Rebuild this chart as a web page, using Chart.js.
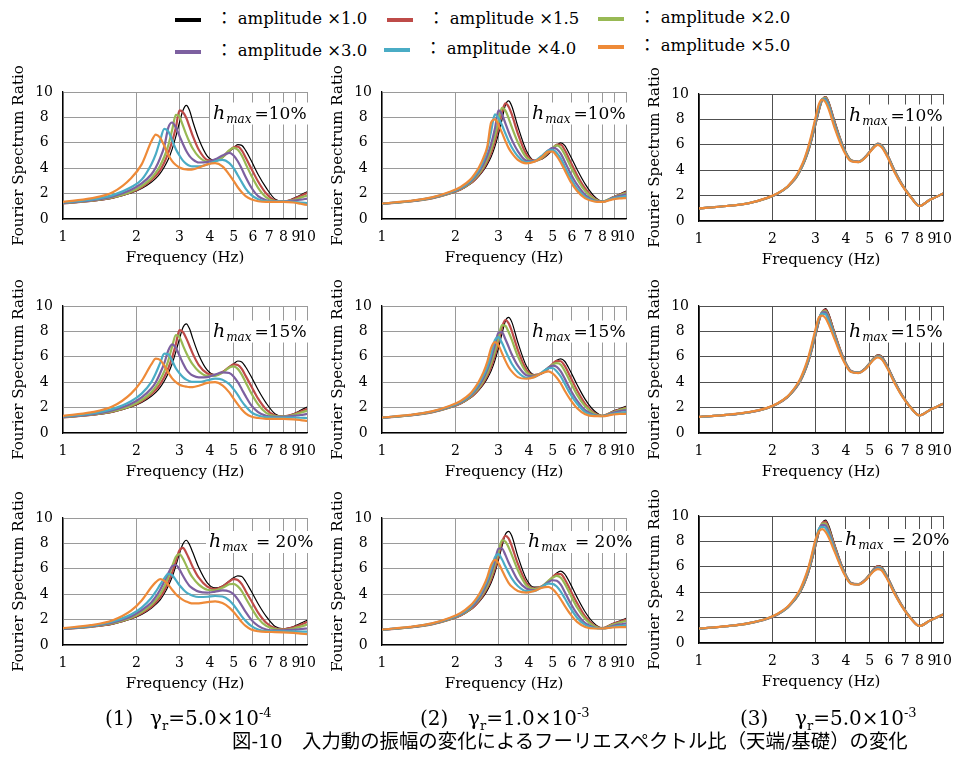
<!DOCTYPE html>
<html><head><meta charset="utf-8">
<script src="https://cdn.jsdelivr.net/npm/chart.js@4.4.1/dist/chart.umd.min.js"></script>
<style>
html,body{margin:0;padding:0;background:#fff;width:960px;height:758px;overflow:hidden;}
#root{position:relative;width:960px;height:758px;overflow:hidden;}
canvas{position:absolute;}
.sw{position:absolute;height:4px;width:26px;}
.leg{position:absolute;font-family:"DejaVu Serif","Noto Sans CJK JP",serif;font-size:16.5px;line-height:18px;color:#000;white-space:nowrap;}
.cap{position:absolute;font-family:"DejaVu Serif","Noto Sans CJK JP",serif;font-size:20px;line-height:24px;color:#000;white-space:nowrap;}
.cap sub,.cap sup{font-size:13px;line-height:0;}
.main{position:absolute;font-family:"DejaVu Serif","Noto Sans CJK JP",serif;font-size:19.4px;line-height:22px;color:#000;white-space:nowrap;}
</style></head>
<body><div id="root"></div>
<script>
// ---------------- DATA ----------------
const FREQ = [1, 1.3, 1.6, 1.9, 2.1, 2.3, 2.4, 2.5, 2.6, 2.7, 2.8, 2.9, 3.0, 3.1, 3.2, 3.3, 3.4, 3.6, 3.9, 4.2, 4.5, 4.8, 5.0, 5.2, 5.4, 5.6, 5.9, 6.3, 6.8, 7.4, 8.0, 8.8, 9.4, 10];
const X_TICKS = [1, 2, 3, 4, 5, 6, 7, 8, 9, 10];
const SERIES_NAMES = ['amplitude ×1.0', 'amplitude ×1.5', 'amplitude ×2.0', 'amplitude ×3.0', 'amplitude ×4.0', 'amplitude ×5.0'];
const HMAX_TEXT = ['=10%', '=15%', ' = 20%'];
const GAMMA_BASE = ['5.0', '1.0', '5.0'];
const GAMMA_EXP = ['-4', '-3', '-3'];

// gamma_r = 5.0e-4
const Y_G1_H10 = [
 [1.22,1.40,1.65,2.05,2.40,2.90,3.20,3.60,4.10,4.70,5.50,6.50,7.60,8.55,8.95,8.55,7.70,6.30,4.95,4.62,4.85,5.30,5.60,5.85,5.80,5.40,4.60,3.50,2.45,1.55,1.38,1.62,1.88,2.15],
 [1.23,1.42,1.68,2.10,2.50,3.05,3.40,3.85,4.45,5.20,6.10,7.20,8.55,8.40,7.95,7.25,6.55,5.45,4.65,4.58,4.88,5.38,5.65,5.70,5.40,4.85,4.00,2.95,2.00,1.45,1.38,1.58,1.82,2.05],
 [1.25,1.44,1.72,2.15,2.60,3.20,3.65,4.20,4.90,5.80,7.00,8.20,8.05,7.35,6.65,6.05,5.55,4.90,4.52,4.55,4.85,5.40,5.60,5.45,5.00,4.35,3.45,2.45,1.70,1.40,1.38,1.50,1.68,1.85],
 [1.27,1.47,1.78,2.30,2.80,3.50,4.05,4.80,5.70,7.20,7.60,7.20,6.55,5.90,5.35,4.95,4.70,4.45,4.48,4.70,5.00,5.20,5.00,4.55,3.95,3.30,2.50,1.80,1.48,1.40,1.40,1.45,1.52,1.60],
 [1.30,1.52,1.88,2.50,3.10,4.30,5.10,6.20,7.10,6.90,6.20,5.50,5.00,4.60,4.35,4.20,4.15,4.15,4.30,4.55,4.65,4.40,4.00,3.45,2.90,2.40,1.90,1.55,1.40,1.38,1.38,1.35,1.30,1.25],
 [1.35,1.62,2.10,3.20,4.30,6.10,6.65,6.40,5.75,5.05,4.55,4.25,4.05,3.95,3.90,3.88,3.90,4.05,4.30,4.40,4.15,3.50,3.00,2.50,2.10,1.80,1.55,1.40,1.35,1.35,1.35,1.30,1.20,1.10]
];
const Y_G1_H15 = [
 [1.22,1.40,1.65,2.05,2.40,2.90,3.20,3.60,4.10,4.70,5.45,6.40,7.40,8.30,8.60,8.20,7.45,6.15,4.95,4.60,4.80,5.20,5.45,5.67,5.60,5.20,4.45,3.40,2.35,1.50,1.32,1.52,1.78,2.05],
 [1.23,1.42,1.68,2.10,2.50,3.05,3.40,3.85,4.40,5.10,5.95,7.00,8.10,7.95,7.45,6.85,6.25,5.35,4.68,4.55,4.80,5.20,5.40,5.35,5.05,4.50,3.70,2.70,1.85,1.38,1.30,1.48,1.70,1.90],
 [1.25,1.44,1.72,2.15,2.60,3.20,3.65,4.20,4.85,5.70,6.80,7.70,7.55,6.90,6.30,5.80,5.40,4.85,4.50,4.50,4.75,5.15,5.25,5.05,4.60,4.00,3.15,2.25,1.58,1.33,1.30,1.43,1.60,1.75],
 [1.27,1.47,1.80,2.30,2.80,3.50,4.00,4.70,5.50,6.50,6.98,6.70,6.10,5.50,5.00,4.70,4.52,4.38,4.40,4.60,4.78,4.72,4.45,4.00,3.45,2.90,2.20,1.65,1.35,1.28,1.28,1.35,1.42,1.50],
 [1.30,1.52,1.90,2.50,3.10,4.00,4.70,5.50,6.25,6.20,5.70,5.10,4.70,4.40,4.20,4.08,4.02,4.02,4.15,4.28,4.20,3.85,3.45,3.00,2.50,2.10,1.65,1.38,1.25,1.22,1.22,1.22,1.20,1.18],
 [1.35,1.62,2.10,3.10,4.10,5.40,5.85,5.75,5.30,4.75,4.30,4.00,3.80,3.70,3.65,3.62,3.62,3.72,3.95,4.00,3.75,3.20,2.70,2.25,1.85,1.55,1.30,1.18,1.12,1.12,1.12,1.08,1.02,0.95]
];
const Y_G1_H20 = [
 [1.25,1.42,1.65,2.05,2.40,2.90,3.20,3.55,4.05,4.65,5.35,6.25,7.20,7.95,8.25,7.90,7.30,6.10,4.90,4.50,4.65,5.05,5.30,5.45,5.40,5.00,4.25,3.25,2.25,1.45,1.28,1.45,1.70,1.95],
 [1.26,1.43,1.68,2.10,2.50,3.00,3.35,3.75,4.30,4.95,5.70,6.60,7.45,7.65,7.25,6.70,6.15,5.30,4.60,4.40,4.60,5.00,5.18,5.12,4.80,4.25,3.50,2.55,1.75,1.32,1.25,1.40,1.60,1.80],
 [1.27,1.45,1.72,2.15,2.60,3.15,3.55,4.00,4.60,5.35,6.20,6.95,7.15,6.80,6.25,5.70,5.30,4.75,4.35,4.30,4.50,4.78,4.82,4.62,4.25,3.70,2.95,2.10,1.50,1.25,1.20,1.30,1.45,1.60],
 [1.28,1.47,1.78,2.25,2.75,3.35,3.80,4.35,5.00,5.65,6.20,6.30,5.95,5.45,5.00,4.65,4.45,4.20,4.12,4.20,4.30,4.22,4.00,3.60,3.10,2.60,2.00,1.50,1.22,1.15,1.15,1.20,1.25,1.30],
 [1.30,1.50,1.85,2.40,2.95,3.70,4.20,4.75,5.25,5.60,5.50,5.10,4.70,4.40,4.15,4.00,3.88,3.78,3.80,3.86,3.82,3.52,3.15,2.70,2.25,1.90,1.50,1.22,1.10,1.08,1.08,1.07,1.06,1.05],
 [1.33,1.56,1.95,2.70,3.50,4.55,4.95,5.18,5.05,4.75,4.35,4.00,3.75,3.55,3.42,3.32,3.27,3.28,3.38,3.44,3.30,2.95,2.60,2.20,1.80,1.50,1.22,1.08,1.03,1.02,1.00,0.95,0.90,0.85]
];
// gamma_r = 1.0e-3
const Y_G2_H10 = [
 [1.20,1.38,1.62,2.00,2.30,2.75,3.05,3.40,3.80,4.30,4.90,5.70,6.70,7.80,8.95,9.30,8.90,7.30,5.40,4.62,4.70,5.10,5.45,5.80,6.00,5.80,5.00,3.90,2.75,1.80,1.38,1.72,1.95,2.20],
 [1.20,1.38,1.63,2.02,2.33,2.80,3.10,3.50,3.95,4.50,5.20,6.10,7.20,8.40,9.10,8.85,8.25,6.75,5.10,4.60,4.75,5.20,5.55,5.85,5.85,5.45,4.55,3.45,2.40,1.62,1.38,1.70,1.90,2.12],
 [1.20,1.39,1.64,2.04,2.36,2.85,3.20,3.60,4.10,4.70,5.50,6.50,7.70,8.75,8.55,7.95,7.25,6.05,4.85,4.55,4.80,5.30,5.60,5.80,5.60,5.10,4.20,3.15,2.20,1.55,1.37,1.68,1.87,2.05],
 [1.21,1.40,1.66,2.07,2.40,2.92,3.30,3.75,4.30,5.00,5.90,7.10,8.55,8.25,7.55,6.85,6.25,5.35,4.60,4.55,4.90,5.40,5.60,5.50,5.15,4.55,3.65,2.70,1.90,1.45,1.36,1.65,1.82,1.95],
 [1.21,1.41,1.68,2.10,2.45,3.00,3.40,3.90,4.55,5.50,6.90,8.25,7.95,7.40,6.75,6.15,5.65,4.95,4.48,4.55,4.95,5.40,5.45,5.20,4.75,4.15,3.30,2.40,1.75,1.42,1.35,1.60,1.72,1.80],
 [1.22,1.42,1.70,2.15,2.52,3.10,3.55,4.10,4.80,5.70,7.60,7.85,7.40,6.80,6.15,5.60,5.20,4.65,4.38,4.50,4.85,5.30,5.30,4.95,4.45,3.85,3.00,2.20,1.62,1.38,1.34,1.55,1.62,1.65]
];
const Y_G2_H15 = [
 [1.20,1.38,1.62,2.00,2.30,2.75,3.05,3.40,3.80,4.30,4.90,5.70,6.70,7.80,8.80,9.10,8.75,7.15,5.30,4.60,4.65,5.05,5.40,5.72,5.84,5.65,4.90,3.80,2.65,1.75,1.36,1.70,1.90,2.10],
 [1.20,1.38,1.63,2.02,2.33,2.80,3.10,3.50,3.95,4.50,5.20,6.10,7.20,8.30,8.88,8.65,8.05,6.55,5.00,4.55,4.70,5.10,5.45,5.68,5.65,5.30,4.45,3.35,2.30,1.58,1.36,1.66,1.85,2.00],
 [1.20,1.39,1.64,2.04,2.36,2.85,3.20,3.60,4.10,4.70,5.50,6.40,7.50,8.50,8.45,7.95,7.35,6.05,4.80,4.50,4.70,5.15,5.40,5.50,5.38,4.90,4.05,3.00,2.10,1.50,1.35,1.63,1.80,1.95],
 [1.21,1.40,1.66,2.07,2.40,2.92,3.30,3.75,4.30,5.00,5.85,6.90,7.90,7.95,7.40,6.80,6.20,5.30,4.55,4.45,4.70,5.15,5.30,5.20,4.85,4.30,3.45,2.55,1.80,1.42,1.34,1.58,1.72,1.80],
 [1.21,1.41,1.68,2.10,2.45,3.00,3.40,3.90,4.50,5.20,6.20,7.30,7.55,7.10,6.50,5.95,5.45,4.80,4.35,4.40,4.75,5.10,5.12,4.85,4.45,3.90,3.10,2.30,1.65,1.38,1.33,1.50,1.60,1.65],
 [1.22,1.42,1.70,2.15,2.52,3.10,3.55,4.10,4.75,5.60,6.70,7.15,6.90,6.30,5.70,5.20,4.85,4.40,4.27,4.40,4.70,4.86,4.70,4.35,3.90,3.35,2.65,1.95,1.48,1.33,1.32,1.45,1.50,1.50]
];
const Y_G2_H20 = [
 [1.20,1.38,1.62,2.00,2.30,2.75,3.05,3.40,3.80,4.30,4.90,5.70,6.70,7.75,8.70,8.95,8.60,7.00,5.20,4.55,4.60,5.00,5.35,5.68,5.82,5.60,4.85,3.75,2.60,1.70,1.34,1.68,1.88,2.10],
 [1.20,1.38,1.63,2.02,2.33,2.80,3.10,3.50,3.95,4.50,5.15,6.00,7.05,8.10,8.60,8.40,7.80,6.40,4.90,4.45,4.60,5.00,5.35,5.58,5.58,5.20,4.35,3.30,2.25,1.55,1.33,1.65,1.83,2.00],
 [1.20,1.39,1.64,2.04,2.36,2.85,3.20,3.60,4.10,4.65,5.40,6.30,7.30,8.25,8.15,7.70,7.10,5.90,4.70,4.40,4.60,5.05,5.30,5.45,5.30,4.85,4.00,2.95,2.05,1.48,1.32,1.60,1.76,1.90],
 [1.21,1.40,1.66,2.07,2.40,2.92,3.25,3.70,4.25,4.90,5.70,6.60,7.60,7.60,7.10,6.50,6.00,5.10,4.45,4.30,4.55,4.95,5.10,5.05,4.75,4.20,3.35,2.45,1.72,1.38,1.30,1.50,1.62,1.70],
 [1.21,1.41,1.68,2.10,2.45,3.00,3.40,3.85,4.45,5.10,5.95,6.90,7.15,6.75,6.20,5.70,5.25,4.65,4.25,4.25,4.55,4.83,4.82,4.60,4.20,3.70,2.95,2.15,1.58,1.35,1.30,1.42,1.50,1.55],
 [1.22,1.42,1.70,2.15,2.52,3.10,3.50,4.00,4.60,5.35,6.30,6.70,6.45,5.90,5.35,4.90,4.60,4.25,4.13,4.25,4.50,4.58,4.40,4.05,3.60,3.10,2.45,1.82,1.42,1.30,1.30,1.38,1.40,1.40]
];
// gamma_r = 5.0e-3
const Y_G3_H10 = [
 [1.00,1.18,1.40,1.80,2.15,2.65,3.00,3.40,3.95,4.60,5.40,6.40,7.50,8.60,9.50,9.80,9.40,7.85,5.90,4.80,4.68,5.05,5.45,5.85,6.12,6.00,5.30,4.10,2.90,1.90,1.18,1.65,1.90,2.17],
 [1.00,1.18,1.40,1.80,2.15,2.66,3.02,3.42,3.98,4.65,5.48,6.50,7.62,8.72,9.55,9.75,9.30,7.75,5.85,4.78,4.67,5.05,5.45,5.85,6.10,5.97,5.25,4.05,2.87,1.88,1.18,1.65,1.90,2.17],
 [1.00,1.18,1.40,1.80,2.16,2.67,3.03,3.44,4.00,4.68,5.52,6.55,7.70,8.80,9.58,9.70,9.20,7.65,5.80,4.76,4.66,5.04,5.44,5.84,6.08,5.94,5.22,4.02,2.85,1.87,1.18,1.65,1.90,2.17],
 [1.00,1.18,1.40,1.81,2.16,2.68,3.05,3.47,4.04,4.73,5.60,6.65,7.82,8.92,9.60,9.62,9.10,7.55,5.75,4.74,4.65,5.03,5.43,5.82,6.06,5.90,5.18,3.98,2.82,1.85,1.18,1.65,1.90,2.17],
 [1.00,1.18,1.41,1.81,2.17,2.69,3.07,3.50,4.08,4.78,5.68,6.75,7.95,9.05,9.60,9.52,9.00,7.45,5.70,4.72,4.64,5.02,5.42,5.80,6.03,5.86,5.14,3.95,2.80,1.84,1.18,1.65,1.90,2.17],
 [1.00,1.18,1.41,1.82,2.18,2.70,3.10,3.55,4.15,4.88,5.80,6.90,8.10,9.20,9.55,9.35,8.80,7.30,5.60,4.70,4.63,5.00,5.40,5.78,6.00,5.80,5.08,3.90,2.78,1.83,1.18,1.65,1.90,2.17]
];
const Y_G3_H15 = [
 [1.26,1.42,1.62,1.95,2.30,2.80,3.15,3.55,4.05,4.70,5.50,6.50,7.60,8.70,9.55,9.80,9.40,7.90,6.00,4.90,4.77,5.10,5.50,5.90,6.15,6.05,5.35,4.20,3.00,2.00,1.39,1.80,2.05,2.30],
 [1.26,1.42,1.62,1.95,2.30,2.81,3.17,3.58,4.08,4.75,5.57,6.58,7.70,8.80,9.55,9.70,9.25,7.80,5.95,4.88,4.76,5.10,5.50,5.90,6.12,6.00,5.30,4.15,2.97,1.98,1.39,1.80,2.05,2.30],
 [1.26,1.42,1.62,1.96,2.31,2.82,3.19,3.61,4.12,4.80,5.63,6.66,7.80,8.90,9.55,9.60,9.10,7.70,5.90,4.86,4.75,5.08,5.48,5.88,6.08,5.96,5.26,4.12,2.95,1.97,1.39,1.80,2.05,2.30],
 [1.26,1.42,1.63,1.96,2.32,2.83,3.21,3.64,4.16,4.86,5.70,6.75,7.90,8.98,9.50,9.50,8.95,7.60,5.85,4.84,4.74,5.06,5.46,5.85,6.04,5.92,5.22,4.08,2.93,1.96,1.39,1.80,2.05,2.30],
 [1.26,1.42,1.63,1.97,2.33,2.84,3.23,3.67,4.20,4.92,5.78,6.85,8.00,9.05,9.40,9.35,8.80,7.50,5.80,4.82,4.73,5.04,5.44,5.82,6.00,5.87,5.18,4.05,2.90,1.95,1.39,1.80,2.05,2.30],
 [1.27,1.43,1.64,1.98,2.34,2.86,3.26,3.72,4.28,5.02,5.92,7.00,8.15,9.10,9.25,9.05,8.55,7.35,5.72,4.80,4.72,5.02,5.40,5.78,5.95,5.80,5.12,4.00,2.88,1.94,1.39,1.80,2.05,2.30]
];
const Y_G3_H20 = [
 [1.13,1.32,1.55,1.90,2.25,2.75,3.10,3.50,4.00,4.65,5.45,6.45,7.55,8.65,9.45,9.68,9.25,7.75,5.85,4.75,4.65,5.00,5.42,5.85,6.10,6.00,5.30,4.15,2.95,1.95,1.34,1.75,2.00,2.24],
 [1.13,1.32,1.55,1.90,2.25,2.76,3.12,3.53,4.04,4.70,5.52,6.55,7.68,8.78,9.45,9.55,9.05,7.62,5.80,4.73,4.64,5.00,5.40,5.82,6.05,5.95,5.24,4.10,2.92,1.93,1.34,1.75,2.00,2.24],
 [1.13,1.32,1.55,1.91,2.26,2.77,3.14,3.56,4.08,4.76,5.60,6.64,7.80,8.88,9.40,9.40,8.90,7.52,5.75,4.71,4.63,4.98,5.38,5.78,6.00,5.90,5.20,4.06,2.90,1.92,1.34,1.75,2.00,2.24],
 [1.13,1.32,1.56,1.91,2.27,2.78,3.16,3.60,4.13,4.83,5.68,6.75,7.92,8.95,9.30,9.25,8.75,7.42,5.70,4.69,4.62,4.96,5.35,5.74,5.95,5.85,5.15,4.02,2.88,1.91,1.34,1.75,2.00,2.24],
 [1.13,1.32,1.56,1.92,2.28,2.80,3.19,3.64,4.18,4.90,5.76,6.85,8.02,9.00,9.15,9.05,8.55,7.30,5.65,4.67,4.61,4.94,5.32,5.70,5.88,5.80,5.10,3.98,2.86,1.90,1.34,1.75,2.00,2.24],
 [1.14,1.33,1.57,1.93,2.30,2.83,3.23,3.70,4.26,5.00,5.88,6.98,8.12,8.80,8.97,8.75,8.30,7.15,5.58,4.65,4.60,4.92,5.30,5.66,5.82,5.72,5.04,3.94,2.84,1.89,1.34,1.75,2.00,2.24]
];

// ---------------- STYLE / LAYOUT ----------------
const COLORS = ['#000000', '#be4b48', '#98b954', '#7d60a0', '#4aacc5', '#ee8a38'];
const WIDTHS = [1.2, 2.2, 2.2, 2.2, 2.2, 2.2];
const PANELS = [
  [Y_G1_H10, Y_G2_H10, Y_G3_H10],
  [Y_G1_H15, Y_G2_H15, Y_G3_H15],
  [Y_G1_H20, Y_G2_H20, Y_G3_H20]
];
const COL_LEFT = [63, 382, 699];
const ROW_TOP = [[92, 92, 94], [306, 306, 306], [518, 518, 516]];
const HMAX_DX = [150, 150, 146];
const HMAX_DY = [26.5, 30.5, 29];
const PLOT_W = 253, PLOT_H = 127, Y_AXIS_W = 63, PAD_T = 32, PAD_R = 10, X_AXIS_H = 60;
const SERIF = '"DejaVu Serif", serif';

PANELS.forEach(r => r.forEach(p => p.forEach(a => { if (a.length !== FREQ.length) throw new Error('length mismatch ' + a.length); })));

const root = document.getElementById('root');

const hmaxPlugin = {
  id: 'hmax',
  beforeDatasetsDraw(chart, args, opts) {
    const ctx = chart.ctx, ca = chart.chartArea;
    const x0 = ca.left + opts.dx, y0 = ca.top + opts.dy;
    const fH = 'italic 19px "DejaVu Serif"', fS = 'italic 12px "DejaVu Serif"', fT = '17px "DejaVu Serif"';
    ctx.save();
    ctx.font = fH; const wH = ctx.measureText('h').width;
    ctx.font = fS; const wS = ctx.measureText('max').width;
    ctx.font = fT; const wT = ctx.measureText(opts.text).width;
    const total = wH + 1 + wS + 3 + wT;
    ctx.fillStyle = '#ffffff';
    ctx.fillRect(x0 - 3, y0 - 16, total + 6, 22);
    ctx.fillStyle = '#000000';
    ctx.textAlign = 'left'; ctx.textBaseline = 'alphabetic';
    ctx.font = fH; ctx.fillText('h', x0, y0);
    ctx.font = fS; ctx.fillText('max', x0 + wH + 1, y0 + 4);
    ctx.font = fT; ctx.fillText(opts.text, x0 + wH + 1 + wS + 3, y0);
    ctx.restore();
  }
};

function makePanel(row, col) {
  const rows = PANELS[row][col];
  const plotLeft = COL_LEFT[col], plotTop = ROW_TOP[row][col];
  const W = Y_AXIS_W + PLOT_W + PAD_R, H = PAD_T + PLOT_H + X_AXIS_H;
  const cv = document.createElement('canvas');
  cv.width = W; cv.height = H;
  cv.style.width = W + 'px'; cv.style.height = H + 'px';
  cv.style.left = (plotLeft - Y_AXIS_W) + 'px';
  cv.style.top = (plotTop - PAD_T) + 'px';
  root.appendChild(cv);
  const fine = col === 2;
  const gridColor = fine ? '#505050' : '#9a9a9a';
  new Chart(cv, {
    type: 'line',
    data: {
      datasets: rows.map((arr, i) => ({
        label: SERIES_NAMES[i],
        data: FREQ.map((f, k) => ({ x: f, y: arr[k] })),
        borderColor: COLORS[i],
        backgroundColor: COLORS[i],
        borderWidth: WIDTHS[i],
        pointRadius: 0,
        fill: false,
        cubicInterpolationMode: 'monotone',
        order: rows.length - 1 - i
      }))
    },
    options: {
      responsive: false, animation: false, events: [],
      devicePixelRatio: 1,
      layout: { padding: { top: PAD_T, right: PAD_R, left: 0, bottom: 0 } },
      plugins: {
        legend: { display: false }, tooltip: { enabled: false },
        hmax: { text: HMAX_TEXT[row], dx: HMAX_DX[row], dy: HMAX_DY[row] }
      },
      scales: {
        x: {
          type: 'logarithmic', min: 1, max: 10, position: 'bottom',
          afterFit: s => { s.height = X_AXIS_H; },
          afterBuildTicks: s => { s.ticks = X_TICKS.map(v => ({ value: v })); },
          ticks: { autoSkip: false, maxRotation: 0, minRotation: 0, padding: 10, color: '#000',
                   font: { family: SERIF, size: 14 }, callback: v => String(v) },
          grid: { color: gridColor, lineWidth: 1, drawTicks: false },
          border: { color: '#000', width: 1.3 },
          title: { display: true, text: 'Frequency (Hz)', color: '#000',
                   font: { family: SERIF, size: 15 }, padding: { top: 0, bottom: 11.5 } }
        },
        y: {
          min: 0, max: 10,
          afterFit: s => { s.width = Y_AXIS_W; },
          ticks: { stepSize: fine ? 1 : 2, padding: 10, crossAlign: 'center', color: '#000',
                   font: { family: SERIF, size: 14 },
                   callback: v => (v % 2 === 0 ? String(v) : '') },
          grid: { color: gridColor, lineWidth: 1, drawTicks: false },
          border: { color: '#000', width: 1.3 },
          title: { display: true, text: 'Fourier Spectrum Ratio', color: '#000',
                   font: { family: SERIF, size: 15 }, padding: { top: 10, bottom: 0 } }
        }
      }
    },
    plugins: [hmaxPlugin]
  });
}

for (let r = 0; r < 3; r++) for (let c = 0; c < 3; c++) makePanel(r, c);

// ---------------- legend (HTML) ----------------
const LEG_POS = [[175, 20], [387, 20], [598, 19], [175, 52], [384, 50], [598, 47]];
SERIES_NAMES.forEach((name, i) => {
  const sw = document.createElement('div');
  sw.className = 'sw';
  sw.style.background = COLORS[i];
  sw.style.left = LEG_POS[i][0] + 'px';
  sw.style.top = (LEG_POS[i][1] - 2) + 'px';
  root.appendChild(sw);
  const tx = document.createElement('div');
  tx.className = 'leg';
  tx.textContent = '：\u00a0' + name;
  tx.style.left = (LEG_POS[i][0] + 41) + 'px';
  tx.style.top = (LEG_POS[i][1] - 10) + 'px';
  root.appendChild(tx);
});

// ---------------- captions ----------------
const CAP_POS = [[105, 150], [420, 468], [740, 795]];
for (let c = 0; c < 3; c++) {
  const a = document.createElement('div');
  a.className = 'cap'; a.textContent = '(' + (c + 1) + ')';
  a.style.left = CAP_POS[c][0] + 'px'; a.style.top = '706px';
  root.appendChild(a);
  const b = document.createElement('div');
  b.className = 'cap';
  b.innerHTML = 'γ<sub>r</sub>=' + GAMMA_BASE[c] + '×10<sup>' + GAMMA_EXP[c] + '</sup>';
  b.style.left = CAP_POS[c][1] + 'px'; b.style.top = '706px';
  root.appendChild(b);
}
const mainCap = document.createElement('div');
mainCap.className = 'main';
mainCap.textContent = '図-10　入力動の振幅の変化によるフーリエスペクトル比（天端/基礎）の変化';
mainCap.style.left = '232px'; mainCap.style.top = '731px';
root.appendChild(mainCap);
</script>
</body></html>
